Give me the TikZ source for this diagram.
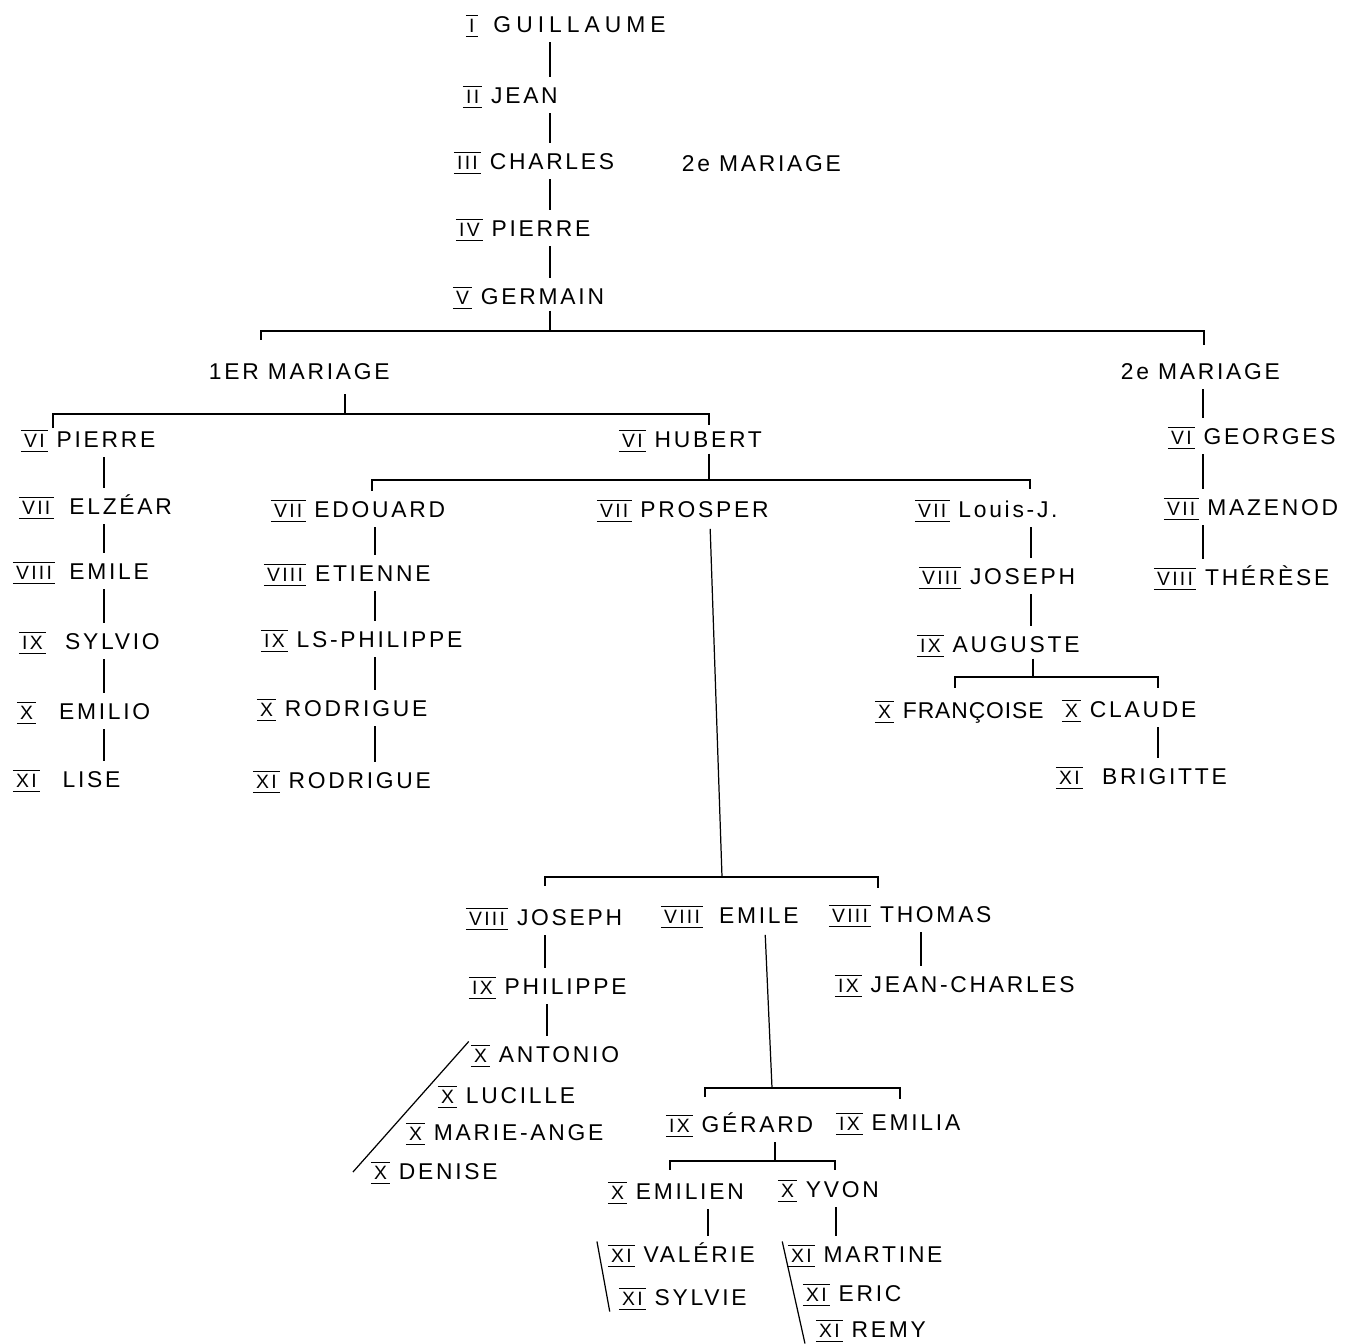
\documentclass[tikz,border=0pt]{standalone}
\usepackage{fontspec}
\usepackage{tikz}
\usetikzlibrary{calc}
\newfontfamily\handfont{Liberation Sans}[LetterSpace=12]
\newsavebox{\genbox}
\newcommand{\gen}[1]{\sbox{\genbox}{\fontsize{11}{12}\selectfont\,#1\,}%
  \rlap{\rule[-2.5pt]{\wd\genbox}{0.6pt}}\rlap{\rule[9.5pt]{\wd\genbox}{0.6pt}}%
  \usebox{\genbox}\hspace{5pt}}
\tikzset{
  person/.style={anchor=west, inner sep=2pt, text height=10pt, text depth=1pt,
    font=\handfont\fontsize{13}{15}\selectfont},
  branch/.style={line width=0.7pt, black},
  descent/.style={branch, shorten <=2pt, shorten >=3pt},
}

\begin{document}
\begin{tikzpicture}[x=0.02cm, y=-0.02cm]

  \fill[white] (0,0) rectangle (1345,1343);
  \useasboundingbox (0,0) rectangle (1345,1343);

  %% Lignee directe
  \node[person] (guillaume) at (462,25)  {\gen{I}\hspace{4pt}{\addfontfeature{LetterSpace=22}GUILLAUME}};
  \node[person] (jean)      at (459,96)  {\gen{II}JEAN};
  \node[person] (charles)   at (450,162) {\gen{III}CHARLES};
  \node[person] (mar0)      at (678,164) {2e MARIAGE};
  \node[person] (pierreIV)  at (452,229) {\gen{IV}PIERRE};
  \node[person] (germain)   at (449,297) {\gen{V}GERMAIN};
  \foreach \a/\b in {guillaume/jean, jean/charles, charles/pierreIV, pierreIV/germain}{
    \draw[descent] (550,0 |- \a.south) -- (550,0 |- \b.north);
  }

  %% Germain: deux mariages
  \coordinate (gm) at (550,331);
  \coordinate (gl) at (261,331);
  \coordinate (gr) at (1204,331);
  \draw[branch] (gm |- germain.south) -- (gm);
  \draw[branch] ([yshift=-5pt]gl) -- (gl) -- (gr) -- ([yshift=-8pt]gr);
  \node[person] (mar1) at (205,372)  {1ER MARIAGE};
  \node[person] (mar2) at (1117,372) {2e MARIAGE};

  %% 1er mariage
  \coordinate (ml) at (53,414);
  \coordinate (mr) at (709,414);
  \draw[branch, shorten <=5pt] (345,0 |- mar1.south) -- (345,0 |- ml);
  \draw[branch] ([yshift=-8pt]ml) -- (ml) -- (mr) -- ([yshift=-6pt]mr);

  %% Branche de Pierre
  \node[person] (pierreVI)  at (17,440) {\gen{VI}PIERRE};
  \node[person] (elzear)    at (15,507) {\gen{VII}\hspace{4pt}ELZÉAR};
  \node[person] (emileVIII) at (9,572)  {\gen{VIII}\hspace{3pt}EMILE};
  \node[person] (sylvio)    at (15,642) {\gen{IX}\hspace{6pt}SYLVIO};
  \node[person] (emilio)    at (13,712) {\gen{X}\hspace{8pt}EMILIO};
  \node[person] (lise)      at (9,780)  {\gen{XI}\hspace{8pt}LISE};
  \foreach \a/\b in {pierreVI/elzear, elzear/emileVIII, emileVIII/sylvio, sylvio/emilio, emilio/lise}{
    \draw[descent] (104,0 |- \a.south) -- (104,0 |- \b.north);
  }

  %% Branche de Hubert
  \node[person] (hubert) at (615,440) {\gen{VI}HUBERT};
  \coordinate (hm) at (709,480);
  \coordinate (hl) at (372,480);
  \coordinate (hr) at (1030,480);
  \draw[branch] (hm |- hubert.south) -- (hm);
  \draw[branch] ([yshift=-6pt]hl) -- (hl) -- (hr) -- ([yshift=-5pt]hr);

  \node[person] (edouard)    at (267,510) {\gen{VII}EDOUARD};
  \node[person] (etienne)    at (260,574) {\gen{VIII}ETIENNE};
  \node[person] (lsphilippe) at (257,640) {\gen{IX}LS-PHILIPPE};
  \node[person] (rodrigueX)  at (253,709) {\gen{X}RODRIGUE};
  \node[person] (rodrigueXI) at (249,781) {\gen{XI}RODRIGUE};
  \foreach \a/\b in {edouard/etienne, etienne/lsphilippe, lsphilippe/rodrigueX, rodrigueX/rodrigueXI}{
    \draw[descent] (375,0 |- \a.south) -- (375,0 |- \b.north);
  }

  \node[person] (prosper) at (593,510) {\gen{VII}PROSPER};

  \node[person] (louis)      at (911,510) {\gen{VII}Louis-J.};
  \node[person] (josephVIII) at (915,577) {\gen{VIII}JOSEPH};
  \node[person] (auguste)    at (913,645) {\gen{IX}AUGUSTE};
  \foreach \a/\b in {louis/josephVIII, josephVIII/auguste}{
    \draw[descent] (1031,0 |- \a.south) -- (1031,0 |- \b.north);
  }
  \coordinate (am) at (1033,677);
  \coordinate (al) at (955,677);
  \coordinate (ar) at (1158,677);
  \draw[branch] (am |- auguste.south) -- (am);
  \draw[branch] ([yshift=-6pt]al) -- (al) -- (ar) -- ([yshift=-6pt]ar);
  \node[person] (francoise) at (871,711)  {\gen{X}{\addfontfeature{LetterSpace=4}FRANÇOISE}};
  \node[person] (claude)    at (1058,710) {\gen{X}CLAUDE};
  \node[person] (brigitte)  at (1052,777) {\gen{XI}\hspace{6pt}BRIGITTE};
  \draw[descent] (1158,0 |- claude.south) -- (1158,0 |- brigitte.north);

  %% 2e mariage
  \node[person] (georges) at (1164,437) {\gen{VI}GEORGES};
  \node[person] (mazenod) at (1160,508) {\gen{VII}MAZENOD};
  \node[person] (therese) at (1150,578) {\gen{VIII}THÉRÈSE};
  \foreach \a/\b in {mar2/georges, georges/mazenod, mazenod/therese}{
    \draw[descent] (1203,0 |- \a.south) -- (1203,0 |- \b.north);
  }

  %% Descendance de Prosper
  \coordinate (pm) at (722,877);
  \coordinate (pl) at (545,877);
  \coordinate (pr) at (878,877);
  \draw[branch, shorten <=3pt] (710,0 |- prosper.south) -- (pm);
  \draw[branch] ([yshift=-5pt]pl) -- (pl) -- (pr) -- ([yshift=-6pt]pr);

  \node[person] (josephP)  at (462,918) {\gen{VIII}JOSEPH};
  \node[person] (philippe) at (465,987) {\gen{IX}PHILIPPE};
  \draw[descent] (545,0 |- josephP.south) -- (545,0 |- philippe.north);

  \node[person] (antonio)    at (467,1055) {\gen{X}ANTONIO};
  \node[person] (lucille)    at (434,1096) {\gen{X}LUCILLE};
  \node[person] (marieange)  at (402,1133) {\gen{X}MARIE-ANGE};
  \node[person] (denise)     at (367,1172) {\gen{X}DENISE};
  \draw[descent] (547,0 |- philippe.south) -- (547,0 |- antonio.north);
  \draw[branch] ([xshift=1pt]antonio.north west) -- ([xshift=-8pt]denise.west);

  \node[person] (emileP) at (657,916) {\gen{VIII}\hspace{4pt}EMILE};
  \coordinate (em) at (772,1088);
  \coordinate (el) at (705,1088);
  \coordinate (er) at (900,1088);
  \draw[branch, shorten <=3pt] (765,0 |- emileP.south) -- (em);
  \draw[branch] ([yshift=-5pt]el) -- (el) -- (er) -- ([yshift=-6pt]er);

  \node[person] (gerard) at (662,1125) {\gen{IX}GÉRARD};
  \node[person] (emilia) at (832,1123) {\gen{IX}EMILIA};
  \coordinate (rm) at (775,1161);
  \coordinate (rl) at (670,1161);
  \coordinate (rr) at (835,1161);
  \draw[branch, shorten <=2pt] (rm |- gerard.south) -- (rm);
  \draw[branch] ([yshift=-5pt]rl) -- (rl) -- (rr) -- ([yshift=-5pt]rr);

  \node[person] (emilien) at (604,1192) {\gen{X}EMILIEN};
  \node[person] (yvon)    at (774,1190) {\gen{X}YVON};

  \node[person] (valerie) at (604,1255) {\gen{XI}VALÉRIE};
  \node[person] (sylvie)  at (615,1298) {\gen{XI}SYLVIE};
  \draw[descent] (708,0 |- emilien.south) -- (708,0 |- valerie.north);
  \draw[branch] ([xshift=-4pt]valerie.north west) -- ([xshift=-3pt]sylvie.south west);

  \node[person] (martine) at (784,1255) {\gen{XI}MARTINE};
  \node[person] (eric)    at (799,1294) {\gen{XI}ERIC};
  \node[person] (remy)    at (812,1330) {\gen{XI}REMY};
  \draw[descent] (836,0 |- yvon.south) -- (836,0 |- martine.north);
  \draw[branch] ([xshift=-1pt]martine.north west) -- ([xshift=-4pt]remy.south west);

  \node[person] (thomas)      at (825,915) {\gen{VIII}THOMAS};
  \node[person] (jeancharles) at (831,985) {\gen{IX}JEAN-CHARLES};
  \draw[descent] (921,0 |- thomas.south) -- (921,0 |- jeancharles.north);

\end{tikzpicture}
\end{document}
